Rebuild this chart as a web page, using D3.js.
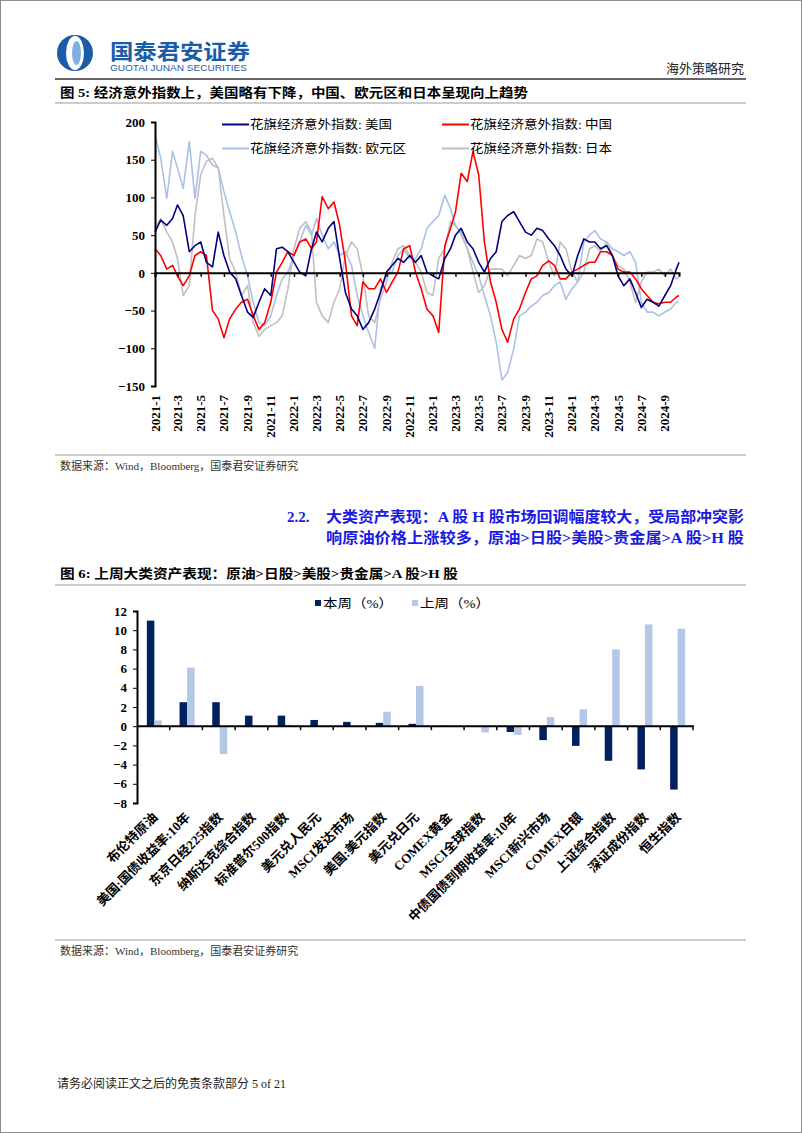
<!DOCTYPE html>
<html lang="zh">
<head>
<meta charset="UTF-8">
<title>海外策略研究</title>
<script src="https://d3js.org/d3.v7.min.js"></script>
<style>
  body { margin: 0; background: #fff; }
  svg { display: block; }
  .num { font-family: "Liberation Serif", "Noto Sans CJK SC", serif; font-weight: bold; font-size: 13px; fill: #000; }
  .cjk { font-family: "Liberation Serif", "Noto Sans CJK SC", serif; fill: #000; }
</style>
</head>
<body>
<script>
// ---------- chart 1: citi economic surprise index, half-monthly readings ----------
const surpriseNames = ["花旗经济意外指数: 美国", "花旗经济意外指数: 中国", "花旗经济意外指数: 欧元区", "花旗经济意外指数: 日本"];
const usVals = [54,70,63,72,90,76,28,36,41,14,8,54,23,1,-8,-30,-52,-59,-39,-21,-30,32,34,28,14,1,-4,32,54,41,
  59,68,19,-26,-48,-57,-75,-66,-48,-26,1,10,19,14,23,14,23,1,-4,-8,19,32,50,59,41,32,14,1,19,28,
  68,76,81,68,54,50,59,56,45,36,23,5,-4,23,45,41,41,32,36,23,-4,-17,-8,-26,-46,-35,-39,-44,-30,-17,5,14];
const cnVals = [32,23,5,10,-4,-17,-4,23,28,23,-50,-61,-86,-61,-48,-39,-35,-57,-75,-66,-39,1,14,28,23,41,45,32,41,101,
  85,94,63,14,-57,-70,-12,-21,-21,-8,-26,-12,1,32,36,1,-21,-48,-57,-79,36,59,81,132,121,161,130,41,-12,-39,
  -75,-92,-61,-48,-26,-8,-4,10,16,10,-8,-8,1,5,10,14,14,28,28,23,5,1,1,-8,-21,-30,-39,-41,-39,-39,-32,-30];
const euVals = [183,152,99,161,139,112,174,99,161,156,143,139,108,81,54,23,-4,-39,-66,-70,-57,-30,-8,1,23,41,63,50,72,50,
  32,41,23,28,10,-30,-57,-79,-100,-21,-4,1,23,32,19,19,32,59,68,76,103,85,63,54,32,14,-4,-30,-57,-92,
  -142,-132,-101,-57,-52,-44,-39,-30,-26,-17,-12,-35,-21,-12,41,50,56,45,41,32,28,23,28,14,-39,-52,-52,-57,-52,-48,-39,-38];
const jpVals = [59,72,54,41,19,-30,-17,76,130,148,152,139,76,19,1,-30,-17,-66,-84,-75,-70,-66,-57,-21,32,59,68,54,-39,-57,
  -66,-39,-21,23,41,32,-4,-57,-66,-35,-12,14,32,36,23,14,1,-26,-30,19,32,68,63,50,32,1,-26,-17,5,5,
  5,-4,10,23,19,23,45,41,14,-4,41,32,1,-12,1,32,36,28,41,23,10,5,-12,-39,-12,1,1,5,-4,5,-8,-6];
const surpriseTicks = [200, 150, 100, 50, 0, -50, -100, -150];

// ---------- chart 2: weekly asset performance ----------
const assets = ["布伦特原油", "美国:国债收益率:10年", "东京日经225指数", "纳斯达克综合指数", "标准普尔500指数",
  "美元兑人民元", "MSCI发达市场", "美国:美元指数", "美元兑日元", "COMEX黄金", "MSCI全球指数",
  "中债国债到期收益率:10年", "MSCI新兴市场", "COMEX白银", "上证综合指数", "深证成份指数", "恒生指数"];
const thisWeek = [11.0, 2.5, 2.5, 1.1, 1.1, 0.65, 0.45, 0.35, 0.25, 0.05, 0.0, -0.6, -1.45, -2.05, -3.6, -4.5, -6.6];
const lastWeek = [0.6, 6.1, -2.9, 0.05, 0.15, 0.0, 0.0, 1.5, 4.2, 0.0, -0.65, -0.9, 0.95, 1.75, 8.0, 10.6, 10.15];
const barTicks = [12, 10, 8, 6, 4, 2, 0, -2, -4, -6, -8];
const barSeries = ["本周（%）", "上周（%）"];

const W = 802, H = 1133;
const svg = d3.select("body").append("svg").attr("width", W).attr("height", H);
svg.append("rect").attr("x", 0.5).attr("y", 0.5).attr("width", W - 1).attr("height", H - 1)
  .attr("fill", "#fff").attr("stroke", "#8c8c8c");

function txt(x, y, s, size, opts = {}) {
  const t = svg.append("text").attr("x", x).attr("y", y).attr("class", "cjk")
    .style("font-size", size + "px").text(s);
  if (opts.bold) t.style("font-weight", "bold");
  if (opts.fill) t.style("fill", opts.fill);
  if (opts.family) t.style("font-family", opts.family);
  if (opts.anchor) t.attr("text-anchor", opts.anchor);
  if (opts.len) t.attr("textLength", opts.len).attr("lengthAdjust", "spacingAndGlyphs");
  return t;
}
function hline(x1, x2, y, color, w) {
  svg.append("line").attr("x1", x1).attr("x2", x2).attr("y1", y).attr("y2", y)
    .attr("stroke", color).attr("stroke-width", w);
}

// ---------- header ----------
const logo = svg.append("g").attr("transform", "translate(75,53)");
logo.append("circle").attr("r", 18).attr("fill", "#1a5ca8");
logo.append("ellipse").attr("rx", 9).attr("ry", 17).attr("fill", "#fff");
logo.append("ellipse").attr("cx", 1.5).attr("rx", 4.5).attr("ry", 12).attr("fill", "#7fb0e0");
txt(110, 59, "国泰君安证券", 21, {bold: true, fill: "#1a5ca8", len: 140, family: "Noto Sans CJK SC"});
txt(110, 71, "GUOTAI JUNAN SECURITIES", 8.5, {fill: "#1a5ca8", len: 137, family: "Liberation Sans"});
txt(744, 73, "海外策略研究", 13, {anchor: "end", fill: "#222"});
hline(55, 746, 79, "#333", 1.5);

txt(60, 97, "图 5: 经济意外指数上，美国略有下降，中国、欧元区和日本呈现向上趋势", 13, {bold: true, len: 468});
hline(55, 746, 103, "#999", 1);

// ---------- chart 1 ----------
const dates = d3.utcMonths(new Date(Date.UTC(2021, 0, 1)), new Date(Date.UTC(2024, 9, 2)))
  .flatMap(m => [m, d3.utcDay.offset(m, 15)]).slice(0, 91);
dates.push(new Date(Date.UTC(2024, 9, 8)));

const x1 = d3.scaleUtc().domain([new Date(Date.UTC(2021, 0, 1)), new Date(Date.UTC(2024, 9, 8))]).range([155, 679]);
const y1 = d3.scaleLinear().domain([-150, 200]).range([386, 122]);

const c1 = svg.append("g");
const seriesData = [
  {vals: euVals, color: "#a9c1e6"},
  {vals: jpVals, color: "#bfbfbf"},
  {vals: cnVals, color: "#ff0000"},
  {vals: usVals, color: "#000080"}
];
const line = d3.line().x((d, i) => x1(dates[i])).y(d => y1(d));
seriesData.forEach(s => {
  c1.append("path").datum(s.vals).attr("d", line)
    .attr("fill", "none").attr("stroke", s.color).attr("stroke-width", 1.6)
    .attr("stroke-linejoin", "round");
});

// y axis
const yAx = c1.append("g").attr("transform", "translate(155,0)")
  .call(d3.axisLeft(y1).tickValues(surpriseTicks).tickSize(4).tickPadding(6));
yAx.select(".domain").attr("stroke", "#000").attr("stroke-width", 2);
yAx.selectAll("text").attr("class", "num").attr("font-family", null).attr("font-size", null);

// zero line with month ticks
const monthTicks = d3.utcMonth.every(2).range(new Date(Date.UTC(2021, 0, 1)), new Date(Date.UTC(2024, 9, 2)));
const xAx = c1.append("g").attr("transform", `translate(0,${y1(0)})`)
  .call(d3.axisBottom(x1).tickValues(monthTicks).tickSize(4).tickFormat(""));
xAx.select(".domain").attr("stroke", "#000").attr("stroke-width", 2);
xAx.selectAll(".tick line").attr("stroke-width", 1.5);

c1.selectAll(".mlab").data(monthTicks).enter().append("text")
  .attr("class", "num")
  .attr("transform", d => `translate(${x1(d) + 4.5},395) rotate(-90)`)
  .attr("text-anchor", "end")
  .text(d => d.getUTCFullYear() + "-" + (d.getUTCMonth() + 1));

// legend
const legPos = [[222, 129, 0], [442, 129, 1], [222, 153, 2], [442, 153, 3]];
const legColors = ["#000080", "#ff0000", "#a9c1e6", "#bfbfbf"];
legPos.forEach(([lx, ly, k]) => {
  c1.append("line").attr("x1", lx).attr("x2", lx + 27).attr("y1", ly - 4.5).attr("y2", ly - 4.5)
    .attr("stroke", legColors[k]).attr("stroke-width", 2);
  txt(lx + 28, ly, surpriseNames[k], 12.5, {len: k === 2 ? 156 : 142});
});

hline(55, 746, 455, "#999", 1);
txt(60, 470, "数据来源：Wind，Bloomberg，国泰君安证券研究", 11, {fill: "#333"});

// ---------- section heading ----------
txt(287, 522, "2.2.", 15, {bold: true, fill: "#1a1ae0"});
txt(326, 522, "大类资产表现：A 股 H 股市场回调幅度较大，受局部冲突影", 15, {bold: true, fill: "#1a1ae0", len: 418});
txt(326, 543, "响原油价格上涨较多，原油>日股>美股>贵金属>A 股>H 股", 15, {bold: true, fill: "#1a1ae0", len: 418});

txt(60, 578, "图 6: 上周大类资产表现：原油>日股>美股>贵金属>A 股>H 股", 13, {bold: true, len: 398});
hline(55, 746, 585, "#999", 1);

// ---------- chart 2 ----------
const x2 = d3.scaleBand().domain(assets).range([137, 693]);
const y2 = d3.scaleLinear().domain([-8, 12]).range([803, 611]);
const barW = 7.5;
const c2 = svg.append("g");
const barColors = ["#002060", "#b4c7e7"];

[thisWeek, lastWeek].forEach((vals, k) => {
  c2.selectAll(".bar" + k).data(vals).enter().append("rect")
    .attr("x", (d, i) => x2(assets[i]) + x2.bandwidth() / 2 - barW + 1 + k * barW)
    .attr("y", d => y2(Math.max(0, d)))
    .attr("width", barW)
    .attr("height", d => Math.abs(y2(d) - y2(0)))
    .attr("fill", barColors[k]);
});

const yAx2 = c2.append("g").attr("transform", "translate(137,0)")
  .call(d3.axisLeft(y2).tickValues(barTicks).tickSize(4).tickPadding(6));
yAx2.select(".domain").attr("stroke", "#000").attr("stroke-width", 2);
yAx2.selectAll("text").attr("class", "num").attr("font-family", null).attr("font-size", null);

const bounds = assets.map(a => x2(a) + x2.bandwidth());
c2.append("line").attr("x1", 137).attr("x2", 694).attr("y1", y2(0)).attr("y2", y2(0))
  .attr("stroke", "#000").attr("stroke-width", 2);
c2.selectAll(".btick").data(bounds).enter().append("line")
  .attr("x1", d => d).attr("x2", d => d).attr("y1", y2(0)).attr("y2", y2(0) + 4)
  .attr("stroke", "#000").attr("stroke-width", 1.5);

c2.selectAll(".alab").data(assets).enter().append("text")
  .attr("class", "num")
  .attr("transform", d => `translate(${x2(d) + x2.bandwidth() / 2 + 5},818) rotate(-45)`)
  .attr("text-anchor", "end")
  .text(d => d);

// legend
barSeries.forEach((s, k) => {
  const lx = [315, 412][k];
  c2.append("rect").attr("x", lx).attr("y", 600).attr("width", 6).attr("height", 6).attr("fill", barColors[k]);
  txt(lx + 8, 608, s, 12.5, {len: 70});
});

hline(55, 746, 940, "#999", 1);
txt(60, 955, "数据来源：Wind，Bloomberg，国泰君安证券研究", 11, {fill: "#333"});

// ---------- footer ----------
txt(57, 1088, "请务必阅读正文之后的免责条款部分 5 of 21", 12, {fill: "#222"});
</script>
</body>
</html>
